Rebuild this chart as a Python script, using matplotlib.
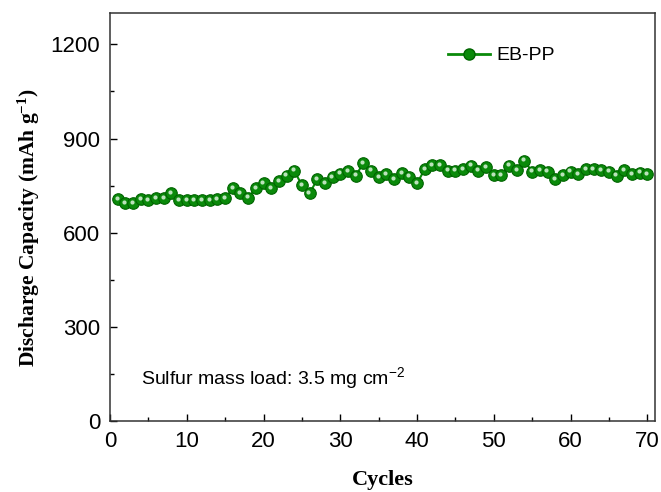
import matplotlib
matplotlib.use("Agg")
import matplotlib.pyplot as plt
import matplotlib.transforms as mtransforms
from matplotlib.lines import Line2D

cycles = list(range(1, 71))
capacity = [707, 694, 694, 707, 704, 710, 710, 725, 704, 704,
            704, 704, 704, 707, 710, 741, 725, 712, 741, 757,
            741, 765, 781, 797, 752, 725, 770, 757, 776, 788,
            795, 781, 821, 797, 776, 786, 770, 789, 778, 757,
            802, 816, 815, 797, 797, 802, 813, 797, 808, 783,
            783, 813, 799, 829, 794, 799, 794, 770, 783, 794,
            786, 802, 802, 799, 794, 781, 799, 786, 791, 786]
series_label = "EB-PP"
note = "Sulfur mass load: 3.5 mg cm$^{-2}$"
xticks = [0, 10, 20, 30, 40, 50, 60, 70]
yticks = [0, 300, 600, 900, 1200]

plt.rcParams['font.family'] = ['Liberation Sans', 'DejaVu Sans']
plt.rcParams['mathtext.default'] = 'regular'

fig = plt.figure(figsize=(6.61, 4.92), dpi=100)
ax = fig.add_axes([0.1664, 0.1443, 0.8245, 0.8293])

green = '#0a8a0a'
dark = '#006400'
ax.plot(cycles, capacity, '-', color=green, lw=1.5, zorder=2)
ax.plot(cycles, capacity, 'o', ms=8.3, mfc=green, mec=dark, mew=0.8, zorder=3)
hl = mtransforms.offset_copy(ax.transData, fig=fig, x=-0.8, y=1.0, units='points')
ax.plot(cycles, capacity, 'o', ms=3, mfc='#cfeccf', mec='none', alpha=0.9,
        transform=hl, zorder=4)

ax.set_xlim(0, 71)
ax.set_ylim(0, 1300)
ax.set_xticks(xticks)
ax.set_yticks(yticks)
ax.set_xticks(range(5, 71, 10), minor=True)
ax.set_yticks(range(150, 1300, 300), minor=True)
ax.tick_params(which='both', direction='in', top=False, right=False,
               labelsize=16)
ax.tick_params(which='major', length=5, width=1)
ax.tick_params(which='minor', length=3, width=1)
ax.tick_params(axis='x', pad=7)
ax.tick_params(axis='y', pad=7)
for s in ax.spines.values():
    s.set_linewidth(1.1)
    s.set_color('#333333')

ax.set_xlabel('Cycles', fontfamily='Liberation Serif', fontweight='bold',
              fontsize=16, labelpad=13)
ax.set_ylabel('Discharge Capacity (mAh g$^{-1}$)', fontfamily='Liberation Serif',
              fontweight='bold', fontsize=15.5)
ax.yaxis.set_label_coords(-0.124, 0.475)

ax.text(4.0, 137, note, fontsize=14, va='center', ha='left')

handle = Line2D([], [], color=green, lw=2, marker='o', ms=8, mfc=green, mec=dark)
leg = ax.legend([handle], [series_label], loc='upper right',
                bbox_to_anchor=(0.848, 0.96), frameon=False, fontsize=14,
                handlelength=2.2, handletextpad=0.3)

fig.savefig('out.png', dpi=100)
